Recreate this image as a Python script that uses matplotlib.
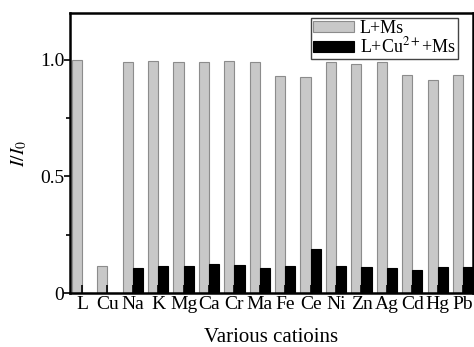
import numpy as np
import matplotlib
matplotlib.use("Agg")
import matplotlib.pyplot as plt
from matplotlib.ticker import MultipleLocator

# ions testés
ions = ['L', 'Cu', 'Na', 'K', 'Mg', 'Ca', 'Cr', 'Ma', 'Fe', 'Ce',
        'Ni', 'Zn', 'Ag', 'Cd', 'Hg', 'Pb']
# L+Ms
l_ms = [1.0, 0.116, 0.988, 0.993, 0.988, 0.99, 0.994, 0.991, 0.928, 0.925,
        0.988, 0.983, 0.988, 0.934, 0.911, 0.934]
# L+Cu2+ +Ms
l_cu_ms = [0, 0, 0.109, 0.114, 0.114, 0.124, 0.121, 0.106, 0.114, 0.19,
           0.114, 0.112, 0.109, 0.099, 0.111, 0.111]

plt.rcParams['font.family'] = ['Liberation Serif', 'DejaVu Serif']
plt.rcParams['mathtext.fontset'] = 'stix'

fig = plt.figure(figsize=(4.74, 3.47), dpi=100)
ax = fig.add_axes([70/474, 1-293/347, 403/474, 280/347])

x = np.arange(len(ions))
w = 0.4
ax.bar(x - w/2, l_ms, w, color='#c8c8c8', edgecolor='#8c8c8c', linewidth=0.8, label='L+Ms')
ax.bar(x + w/2, l_cu_ms, w, color='black', edgecolor='black', linewidth=0.8,
       label='L+Cu$^{2+}$+Ms')

ax.set_xlim(-0.47, 15.39)
ax.set_ylim(0, 1.2)
ax.set_xticks(x)
ax.set_xticklabels(ions, fontsize=14)
ax.set_yticks([0, 0.5, 1.0])
ax.set_yticklabels(['0', '0.5', '1.0'], fontsize=14)
ax.yaxis.set_minor_locator(MultipleLocator(0.25))
ax.tick_params(axis='y', which='major', direction='out', length=4, width=1.2, pad=0)
ax.tick_params(axis='y', which='minor', direction='out', length=3, width=1.2)
ax.tick_params(axis='x', direction='in', length=6, width=1.2, pad=2)
for s in ax.spines.values():
    s.set_linewidth(1.8)

ax.set_ylabel('$I/I_0$', fontsize=14, labelpad=8)
ax.set_xlabel('Various catioins', fontsize=15, labelpad=11)

leg = ax.legend(loc='upper right', bbox_to_anchor=(458/474, 1-18/347),
                bbox_transform=fig.transFigure, fontsize=13, frameon=True,
                fancybox=False, edgecolor='#444444', framealpha=1,
                borderpad=0.1, labelspacing=0.0, handlelength=2.3,
                handleheight=0.6, handletextpad=0.3, borderaxespad=0)
leg.get_frame().set_linewidth(1.0)

fig.savefig('out.png', dpi=100)
